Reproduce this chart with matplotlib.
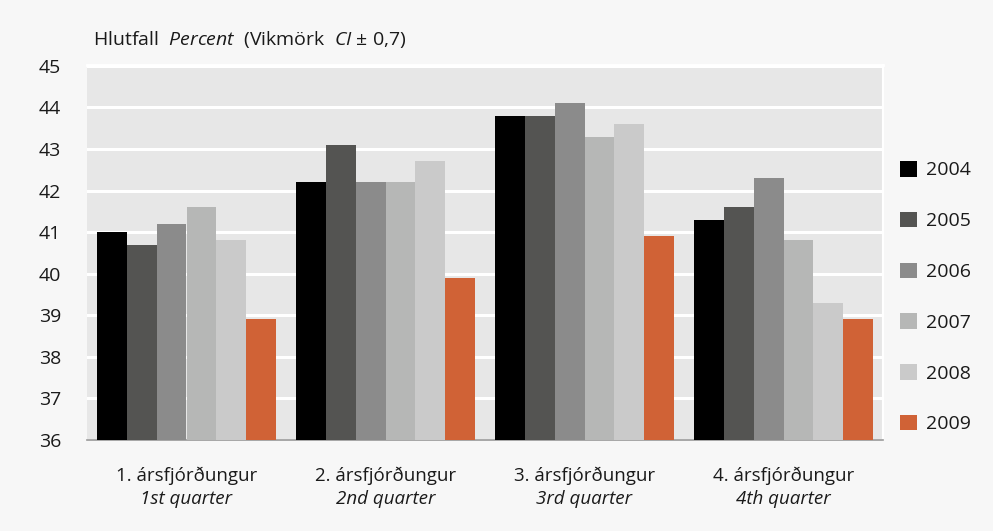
import numpy as np
from matplotlib import pyplot as plt
from matplotlib.patches import Patch

plt.rcParams['font.family'] = ['Open Sans', 'DejaVu Sans']
plt.rcParams['font.size'] = 13
plt.rcParams['text.color'] = '#1a1a1a'
plt.rcParams['mathtext.fontset'] = 'custom'
plt.rcParams['mathtext.rm'] = 'Open Sans'
plt.rcParams['mathtext.it'] = 'Open Sans:italic'

# data
quarters = ['1. ársfjórðungur', '2. ársfjórðungur', '3. ársfjórðungur', '4. ársfjórðungur']
quarters_en = ['1st quarter', '2nd quarter', '3rd quarter', '4th quarter']
years = ['2004', '2005', '2006', '2007', '2008', '2009']
y2004 = [41.0, 42.2, 43.8, 41.3]
y2005 = [40.7, 43.1, 43.8, 41.6]
y2006 = [41.2, 42.2, 44.1, 42.3]
y2007 = [41.6, 42.2, 43.3, 40.8]
y2008 = [40.8, 42.7, 43.6, 39.3]
y2009 = [38.9, 39.9, 40.9, 38.9]
yticks = list(range(36, 46))

series = [y2004, y2005, y2006, y2007, y2008, y2009]
colors = ['#000000', '#545452', '#8b8b8b', '#b6b7b6', '#cacaca', '#d06236']

fig = plt.figure(figsize=(9.93, 5.31), dpi=100, facecolor='#f7f7f7')
ax = fig.add_axes([87 / 993, 1 - 440 / 531, 796 / 993, 375 / 531])
ax.set_facecolor('#e7e7e7')

x = np.arange(len(quarters))
w = 0.9 / 6
for i, vals in enumerate(series):
    ax.bar(x - 0.45 + w * (i + 0.5), [v - 36 for v in vals], width=w, bottom=36,
           color=colors[i], zorder=3, linewidth=0)

ax.set_xlim(-0.5, 3.5)
ax.set_ylim(36, 45.02)
ax.set_yticks(yticks)
ax.yaxis.grid(True, color='white', linewidth=2.2, zorder=1)
ax.set_axisbelow(True)
ax.tick_params(axis='y', length=0, pad=18.5, labelsize=14, labelcolor='#1a1a1a')
ax.tick_params(axis='x', length=0)
ax.set_xticks(x)
ax.set_xticklabels([''] * 4)
for xi, a, b in zip(x, quarters, quarters_en):
    ax.text(xi, 35.13, a, ha='center', va='center', fontsize=13.5)
    ax.text(xi, 34.58, b, ha='center', va='center', fontsize=13.5, style='italic')

ax.spines['left'].set_visible(False)
ax.spines['top'].set_color('white')
ax.spines['top'].set_linewidth(2)
ax.spines['right'].set_color('white')
ax.spines['right'].set_linewidth(1.5)
ax.spines['bottom'].set_color('#999999')
ax.spines['bottom'].set_linewidth(1.2)

fig.text(93 / 993, 1 - 40 / 531, 'Hlutfall  $\\it{Percent}$  (Vikmörk  $\\it{CI}$ ± 0,7)',
         ha='left', va='center', fontsize=14)

handles = [Patch(facecolor=c, edgecolor='none') for c in colors]
fig.legend(handles, years, loc='upper left', bbox_to_anchor=(900 / 993, 1 - 161 / 531),
           frameon=False, fontsize=14, labelspacing=1.66, handlelength=0.85,
           handleheight=0.85, handletextpad=0.5, borderpad=0, borderaxespad=0)

fig.savefig('out.png', dpi=100, facecolor=fig.get_facecolor())
